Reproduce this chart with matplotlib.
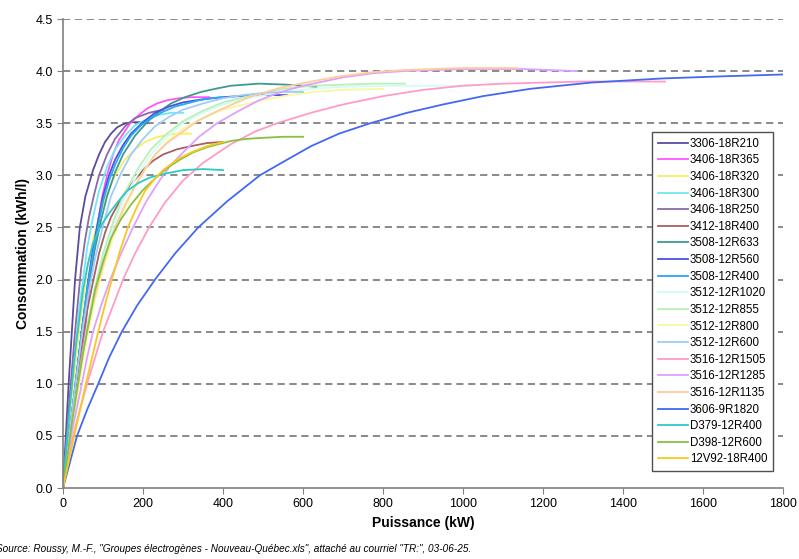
import matplotlib
matplotlib.use("Agg")
import matplotlib.pyplot as plt

plt.rcParams['font.family'] = ['Liberation Sans', 'DejaVu Sans']

# Courbes : (puissance kW, consommation kWh/l)
names = ["3306-18R210", "3406-18R365", "3406-18R320", "3406-18R300", "3406-18R250",
         "3412-18R400", "3508-12R633", "3508-12R560", "3508-12R400", "3512-12R1020",
         "3512-12R855", "3512-12R800", "3512-12R600", "3516-12R1505", "3516-12R1285",
         "3516-12R1135", "3606-9R1820", "D379-12R400", "D398-12R600", "12V92-18R400"]

colors = ["#5a4c9c", "#ff55ff", "#f4f060", "#70e8f4", "#8a6aa8",
          "#a86060", "#3d9a8e", "#4a50e0", "#2aa8f0", "#d4fafa",
          "#b8f0b8", "#f8f8a0", "#a0ccf8", "#ff9cc8", "#dfa0ff",
          "#ffcc9c", "#4468f0", "#30c8c8", "#88c040", "#f8c820"]

x_3306 = [0, 7, 14, 22, 30, 42, 56, 75, 90, 105, 120, 135, 150, 170, 190, 210]
y_3306 = [0, 0.5, 1.0, 1.5, 2.0, 2.5, 2.8, 3.05, 3.2, 3.32, 3.4, 3.46, 3.49, 3.51, 3.51, 3.5]
x_3406_365 = [0, 18, 38, 55, 68, 85, 97, 110, 125, 140, 168, 190, 210, 235, 260, 290, 320, 365]
y_3406_365 = [0, 0.5, 1.0, 1.5, 2.0, 2.5, 2.78, 3.0, 3.2, 3.34, 3.5, 3.58, 3.64, 3.69, 3.72, 3.74, 3.75, 3.75]
x_3406_320 = [0, 20, 40, 60, 75, 90, 110, 130, 155, 180, 205, 230, 260, 290, 320]
y_3406_320 = [0, 0.8, 1.5, 2.1, 2.38, 2.6, 2.82, 3.0, 3.15, 3.25, 3.32, 3.36, 3.39, 3.4, 3.4]
x_3406_300 = [0, 20, 40, 60, 75, 90, 110, 130, 155, 180, 210, 240, 270, 300]
y_3406_300 = [0, 0.9, 1.7, 2.3, 2.6, 2.85, 3.08, 3.25, 3.38, 3.48, 3.54, 3.58, 3.6, 3.6]
x_3406_250 = [0, 15, 30, 45, 55, 65, 78, 90, 110, 130, 155, 180, 215, 250]
y_3406_250 = [0, 0.8, 1.5, 2.1, 2.38, 2.6, 2.82, 3.0, 3.2, 3.35, 3.47, 3.55, 3.6, 3.63]
x_3412 = [0, 20, 40, 60, 75, 90, 105, 120, 140, 160, 180, 200, 225, 250, 285, 320, 360, 400]
y_3412 = [0, 0.6, 1.2, 1.7, 1.98, 2.25, 2.45, 2.6, 2.74, 2.86, 2.96, 3.05, 3.14, 3.2, 3.25, 3.28, 3.31, 3.32]
x_3508_633 = [0, 25, 50, 65, 80, 95, 110, 130, 150, 180, 210, 240, 270, 305, 345, 380, 420, 490, 560, 633]
y_3508_633 = [0, 0.8, 1.6, 1.98, 2.3, 2.57, 2.8, 3.03, 3.2, 3.38, 3.51, 3.61, 3.69, 3.75, 3.8, 3.83, 3.86, 3.88, 3.87, 3.85]
x_3508_560 = [0, 25, 50, 62, 75, 88, 100, 115, 130, 150, 170, 200, 230, 265, 300, 350, 400, 480, 560]
y_3508_560 = [0, 0.8, 1.6, 1.97, 2.3, 2.57, 2.8, 3.0, 3.15, 3.29, 3.4, 3.51, 3.6, 3.66, 3.7, 3.73, 3.75, 3.77, 3.77]
x_3508_400 = [0, 25, 50, 62, 75, 88, 100, 115, 130, 150, 170, 195, 220, 250, 280, 310, 340, 370, 400]
y_3508_400 = [0, 0.8, 1.6, 1.95, 2.25, 2.52, 2.75, 2.95, 3.1, 3.26, 3.38, 3.48, 3.55, 3.61, 3.66, 3.69, 3.72, 3.74, 3.75]
x_3512_1020 = [0, 30, 60, 80, 100, 125, 150, 185, 220, 260, 300, 350, 400, 475, 550, 625, 700, 850, 1020]
y_3512_1020 = [0, 0.8, 1.5, 1.88, 2.2, 2.5, 2.75, 3.0, 3.2, 3.37, 3.5, 3.6, 3.68, 3.75, 3.8, 3.83, 3.85, 3.86, 3.86]
x_3512_855 = [0, 30, 60, 80, 100, 125, 150, 185, 220, 260, 300, 350, 400, 475, 550, 625, 700, 780, 855]
y_3512_855 = [0, 0.8, 1.55, 1.93, 2.25, 2.55, 2.8, 3.05, 3.25, 3.4, 3.52, 3.62, 3.7, 3.77, 3.83, 3.86, 3.87, 3.88, 3.88]
x_3512_800 = [0, 30, 60, 80, 100, 125, 150, 185, 220, 260, 300, 350, 400, 475, 550, 625, 700, 800]
y_3512_800 = [0, 0.75, 1.45, 1.8, 2.1, 2.4, 2.65, 2.93, 3.15, 3.32, 3.45, 3.55, 3.63, 3.7, 3.76, 3.8, 3.82, 3.83]
x_3512_600 = [0, 25, 50, 65, 80, 100, 120, 145, 170, 200, 230, 265, 300, 350, 400, 450, 500, 550, 600]
y_3512_600 = [0, 0.8, 1.55, 1.9, 2.2, 2.52, 2.8, 3.02, 3.2, 3.35, 3.47, 3.56, 3.63, 3.69, 3.74, 3.77, 3.79, 3.8, 3.8]
x_3516_1505 = [0, 12, 25, 42, 60, 80, 100, 125, 150, 180, 215, 255, 300, 350, 420, 480, 535, 620, 700,
               800, 900, 1000, 1100, 1200, 1300, 1400, 1505]
y_3516_1505 = [0, 0.25, 0.5, 0.75, 1.0, 1.25, 1.5, 1.75, 2.0, 2.25, 2.5, 2.74, 2.95, 3.12, 3.3, 3.42,
               3.5, 3.6, 3.68, 3.76, 3.82, 3.86, 3.88, 3.89, 3.9, 3.9, 3.9]
x_3516_1285 = [0, 20, 47, 60, 75, 95, 118, 145, 175, 208, 243, 270, 300, 340, 385, 440, 490, 545, 600,
               650, 700, 775, 850, 925, 1000, 1075, 1150, 1220, 1285]
y_3516_1285 = [0, 0.5, 1.0, 1.25, 1.5, 1.75, 2.0, 2.25, 2.5, 2.75, 2.96, 3.1, 3.22, 3.37, 3.5, 3.62,
               3.72, 3.8, 3.86, 3.9, 3.94, 3.98, 4.0, 4.01, 4.02, 4.02, 4.02, 4.01, 4.0]
x_3516_1135 = [0, 25, 55, 72, 90, 110, 130, 155, 180, 205, 230, 260, 292, 340, 393, 465, 543, 620, 693,
               775, 850, 925, 1000, 1070, 1135]
y_3516_1135 = [0, 0.7, 1.4, 1.72, 2.0, 2.27, 2.5, 2.72, 2.9, 3.06, 3.2, 3.31, 3.4, 3.53, 3.63, 3.75,
               3.84, 3.9, 3.95, 3.99, 4.01, 4.02, 4.03, 4.03, 4.03]
x_3606 = [0, 35, 60, 88, 115, 147, 185, 230, 280, 338, 410, 492, 560, 620, 690, 768, 860, 950, 1050,
          1168, 1320, 1500, 1650, 1820]
y_3606 = [0, 0.5, 0.75, 1.0, 1.25, 1.5, 1.75, 2.0, 2.25, 2.5, 2.75, 3.0, 3.15, 3.28, 3.4, 3.5, 3.6,
          3.68, 3.76, 3.83, 3.89, 3.93, 3.95, 3.97]
x_d379 = [0, 15, 30, 50, 62, 75, 95, 118, 140, 160, 190, 218, 260, 300, 350, 400]
y_d379 = [0, 0.7, 1.3, 1.9, 2.15, 2.35, 2.52, 2.65, 2.76, 2.85, 2.93, 2.98, 3.02, 3.05, 3.06, 3.05]
x_d398 = [0, 25, 50, 65, 80, 100, 120, 145, 170, 200, 230, 260, 292, 325, 360, 390, 420, 460, 500, 550, 600]
y_d398 = [0, 0.7, 1.3, 1.6, 1.9, 2.17, 2.4, 2.58, 2.72, 2.86, 2.97, 3.07, 3.15, 3.22, 3.27, 3.3,
          3.33, 3.35, 3.36, 3.37, 3.37]
x_12v92 = [0, 28, 57, 88, 105, 122, 142, 162, 185, 205, 228, 250, 285, 320, 360, 400]
y_12v92 = [0, 0.5, 1.0, 1.5, 1.76, 2.0, 2.27, 2.5, 2.7, 2.85, 2.96, 3.05, 3.15, 3.22, 3.28, 3.32]

xs = [x_3306, x_3406_365, x_3406_320, x_3406_300, x_3406_250, x_3412, x_3508_633,
      x_3508_560, x_3508_400, x_3512_1020, x_3512_855, x_3512_800, x_3512_600,
      x_3516_1505, x_3516_1285, x_3516_1135, x_3606, x_d379, x_d398, x_12v92]
ys = [y_3306, y_3406_365, y_3406_320, y_3406_300, y_3406_250, y_3412, y_3508_633,
      y_3508_560, y_3508_400, y_3512_1020, y_3512_855, y_3512_800, y_3512_600,
      y_3516_1505, y_3516_1285, y_3516_1135, y_3606, y_d379, y_d398, y_12v92]

x_ticks = [0, 200, 400, 600, 800, 1000, 1200, 1400, 1600, 1800]
y_ticks = [0.0, 0.5, 1.0, 1.5, 2.0, 2.5, 3.0, 3.5, 4.0, 4.5]

fig = plt.figure(figsize=(7.99, 5.59), dpi=100)
ax = fig.add_axes([0.0789, 0.127, 0.9011, 0.839])

for y in y_ticks[1:]:
    ax.axhline(y, color="#808080", linestyle=(0, (4, 2.6)), linewidth=1.3, zorder=1)

for name, c, x, y in zip(names, colors, xs, ys):
    ax.plot(x, y, color=c, linewidth=1.3, label=name, zorder=2)

ax.set_xlim(0, 1800)
ax.set_ylim(0, 4.5)
ax.set_xticks(x_ticks)
ax.set_yticks(y_ticks)
ax.set_yticklabels([f"{v:.1f}" for v in y_ticks])
ax.tick_params(direction="out", length=4, color="#808080", labelsize=9)
for s in ["top", "right"]:
    ax.spines[s].set_visible(False)
for s in ["left", "bottom"]:
    ax.spines[s].set_color("#808080")
    ax.spines[s].set_linewidth(1.2)

ax.set_xlabel("Puissance (kW)", fontweight="bold", fontsize=10)
ax.set_ylabel("Consommation (kWh/l)", fontweight="bold", fontsize=10)

leg = ax.legend(loc="upper left", bbox_to_anchor=(0.818, 0.759), fontsize=8.3,
                frameon=True, fancybox=False, framealpha=1, handlelength=2.6,
                labelspacing=0.40, borderpad=0.5, handletextpad=0.2,
                borderaxespad=0)
leg.get_frame().set_edgecolor("#505050")
leg.get_frame().set_linewidth(1.0)

fig.text(-0.005, 0.012, 'Source: Roussy, M.-F., "Groupes électrogènes - Nouveau-Québec.xls", '
         'attaché au courriel "TR:", 03-06-25.', fontsize=7.2, style="italic")

fig.savefig("out.png", dpi=100)
